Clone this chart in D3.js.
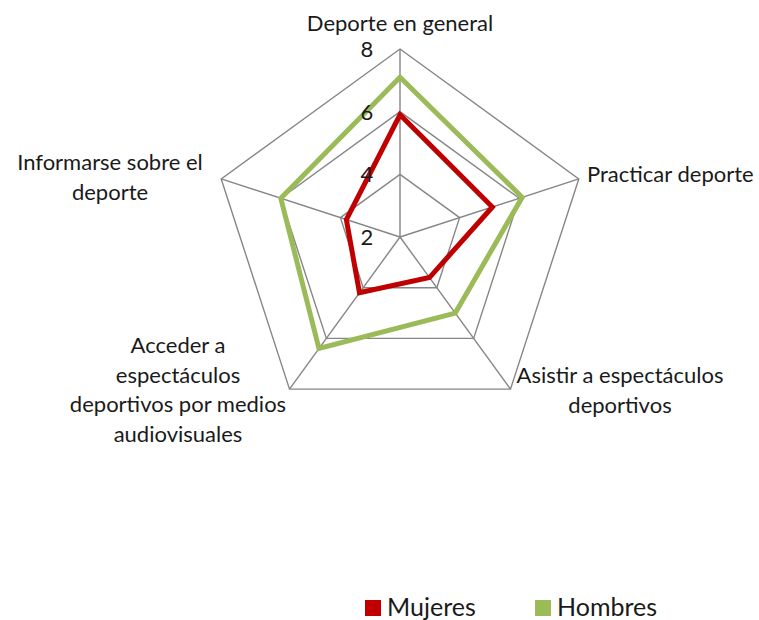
<!DOCTYPE html>
<html>
<head>
<meta charset="utf-8">
<script src="https://cdn.jsdelivr.net/npm/d3@7"></script>
<style>
  body { margin: 0; background: #fff; }
  text { font-family: Lato, "Open Sans", sans-serif; fill: #1a1a1a; }
</style>
</head>
<body>
<div id="chart"></div>
<script>
const width = 759, height = 620;

// data
const categories = [
    ["Deporte en general"],
    ["Practicar deporte"],
    ["Asistir a espectáculos", "deportivos"],
    ["Acceder a", "espectáculos", "deportivos por medios", "audiovisuales"],
    ["Informarse sobre el", "deporte"]
];
const mujeres = [5.9, 5.1, 3.6, 4.2, 3.8];
const hombres = [7.1, 6.1, 5.0, 6.4, 6.0];
const ticks = [2, 4, 6, 8];
const seriesNames = ["Mujeres", "Hombres"];
const seriesColors = ["#C00000", "#9BBB59"];

const cx = 400, cy = 237, radius = 188;

const r = d3.scaleLinear().domain([2, 8]).range([0, radius]);
const angle = d3.scaleLinear().domain([0, categories.length]).range([0, 2 * Math.PI]);

const pt = (i, v) => [cx + r(v) * Math.sin(angle(i)), cy - r(v) * Math.cos(angle(i))];

const svg = d3.select("#chart").append("svg")
    .attr("width", width)
    .attr("height", height);

const grid = svg.append("g");

// rings
ticks.slice(1).forEach(t => {
    grid.append("polygon")
        .attr("points", d3.range(categories.length).map(i => pt(i, t).join(",")).join(" "))
        .attr("fill", "none")
        .attr("stroke", "#868686")
        .attr("stroke-width", 1.4);
});

// spokes
grid.selectAll("line")
    .data(d3.range(categories.length))
    .join("line")
    .attr("x1", cx).attr("y1", cy)
    .attr("x2", d => pt(d, 8)[0])
    .attr("y2", d => pt(d, 8)[1])
    .attr("stroke", "#868686")
    .attr("stroke-width", 1.4);

// series
const line = d3.line().curve(d3.curveLinearClosed);
[mujeres, hombres].forEach((s, k) => {
    svg.append("path")
        .attr("d", line(s.map((v, i) => pt(i, v))))
        .attr("fill", "none")
        .attr("stroke", seriesColors[k])
        .attr("stroke-width", 5)
        .attr("stroke-linejoin", "miter");
});

// tick labels
svg.append("g").selectAll("text")
    .data(ticks)
    .join("text")
    .attr("x", cx - 33)
    .attr("y", d => cy - r(d))
    .attr("dy", "0.36em")
    .attr("text-anchor", "middle")
    .attr("font-size", 22)
    .text(d => d);

// category labels
const labelPos = [
    {x: 400, y: 31, anchor: "middle"},
    {x: 587, y: 182, anchor: "start"},
    {x: 620, y: 383, anchor: "middle"},
    {x: 178, y: 353, anchor: "middle"},
    {x: 110, y: 170, anchor: "middle"}
];
const lh = 29.5;
categories.forEach((lines, i) => {
    const t = svg.append("text")
        .attr("text-anchor", labelPos[i].anchor)
        .attr("font-size", 22);
    lines.forEach((l, j) => {
        t.append("tspan")
            .attr("x", labelPos[i].x)
            .attr("y", labelPos[i].y + j * lh)
            .text(l);
    });
});

// legend
const legendX = [365, 535];
const legend = svg.append("g");
seriesNames.forEach((n, k) => {
    legend.append("rect")
        .attr("x", legendX[k]).attr("y", 600)
        .attr("width", 16).attr("height", 16)
        .attr("fill", seriesColors[k]);
    legend.append("text")
        .attr("x", legendX[k] + 22)
        .attr("y", 615.5)
        .attr("font-size", 25)
        .text(n);
});
</script>
</body>
</html>
